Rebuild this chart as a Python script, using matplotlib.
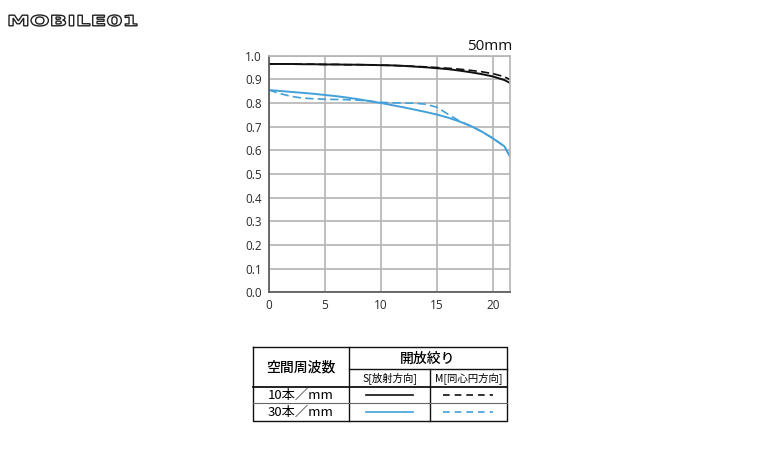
import matplotlib
matplotlib.use("Agg")
import matplotlib.pyplot as plt
from matplotlib.textpath import TextPath
from matplotlib.patches import PathPatch
from matplotlib.font_manager import FontProperties
from matplotlib.transforms import Affine2D

# image height (mm) from the lens centre
x_img = [0, 1, 2, 3, 4, 5, 6, 7, 8, 9, 10, 11, 12, 13, 14, 15, 16, 17, 18, 19, 20, 21, 21.5]

s10 = [0.965, 0.965, 0.965, 0.964, 0.964, 0.963, 0.963, 0.962, 0.962, 0.961, 0.960, 0.959,
       0.957, 0.954, 0.951, 0.947, 0.943, 0.937, 0.930, 0.922, 0.912, 0.897, 0.885]
m10 = [0.965, 0.965, 0.965, 0.964, 0.964, 0.963, 0.963, 0.962, 0.962, 0.961, 0.960, 0.959,
       0.957, 0.955, 0.953, 0.950, 0.947, 0.943, 0.938, 0.932, 0.924, 0.911, 0.899]
s30 = [0.855, 0.851, 0.847, 0.843, 0.839, 0.834, 0.829, 0.823, 0.816, 0.808, 0.800, 0.791,
       0.782, 0.772, 0.762, 0.751, 0.738, 0.722, 0.703, 0.679, 0.650, 0.617, 0.574]
m30 = [0.855, 0.840, 0.828, 0.821, 0.818, 0.816, 0.815, 0.814, 0.812, 0.808, 0.803, 0.801,
       0.800, 0.799, 0.795, 0.782, 0.752, 0.724, 0.703, 0.679, 0.650, 0.617, 0.574]

yticks = [0.0, 0.1, 0.2, 0.3, 0.4, 0.5, 0.6, 0.7, 0.8, 0.9, 1.0]
xticks = [0, 5, 10, 15, 20]

focal = "50mm"
row_head = "空間周波数"
aperture = "開放絞り"
col_s = "S[放射方向]"
col_m = "M[同心円方向]"
rows = ["10本／mm", "30本／mm"]
logo = "MOBILE01"

BLUE = "#43a1d9"
GRID = "#b4b4b4"
JP = ["Noto Sans CJK JP", "DejaVu Sans"]

fig = plt.figure(figsize=(7.8, 4.53), dpi=100)

ax = fig.add_axes([268.7 / 780, 1 - 292.3 / 453, (510 - 268.7) / 780, (292.3 - 55.7) / 453])
ax.plot(x_img, s10, color="#111111", lw=1.4)
ax.plot(x_img, m10, color="#111111", lw=1.2, dashes=(5, 2.5))
ax.plot(x_img, s30, color=BLUE, lw=1.4)
ax.plot(x_img, m30, color=BLUE, lw=1.2, dashes=(5, 2.5))
ax.set_xlim(0, 21.5)
ax.set_ylim(0, 1)
ax.set_xticks(xticks)
ax.set_yticks(yticks)
ax.set_yticklabels([f"{v:.1f}" for v in yticks])
ax.grid(True, color=GRID, lw=1.2)
ax.set_axisbelow(True)
ax.tick_params(length=0, labelsize=8.5, colors="#2a2a2a", pad=5)
for s in ["left", "bottom"]:
    ax.spines[s].set_color("#555555")
    ax.spines[s].set_linewidth(1.2)
for s in ["top", "right"]:
    ax.spines[s].set_color(GRID)
    ax.spines[s].set_linewidth(1.2)
for t in ax.get_xticklabels() + ax.get_yticklabels():
    t.set_family("Open Sans")

# overlay in pixel coords for title, table and logo
ov = fig.add_axes([0, 0, 1, 1])
ov.set_xlim(0, 780)
ov.set_ylim(453, 0)
ov.axis("off")

ov.text(512, 46, focal, ha="right", va="center", fontsize=11, family="Open Sans", color="#111111")

# table frame
L, R, T, B = 252.7, 506.7, 347.3, 420.7
c1, c2 = 349.3, 430
h1, h2, h3 = 369.3, 386.7, 403.3
k = dict(color="#111111", lw=1.0)
ov.plot([L, R, R, L, L], [T, T, B, B, T], **k)
ov.plot([c1, c1], [T, B], **k)
ov.plot([c2, c2], [h1, B], **k)
ov.plot([c1, R], [h1, h1], **k)
ov.plot([L, R], [h2, h2], color="#111111", lw=1.3)
ov.plot([L, R], [h3, h3], color="#666666", lw=0.8)

ov.text((L + c1) / 2, (T + h2) / 2, row_head, ha="center", va="center", fontsize=10, family=JP, weight="medium")
ov.text((c1 + R) / 2, (T + h1) / 2, aperture, ha="center", va="center", fontsize=10, family=JP, weight="medium")
ov.text((c1 + c2) / 2, (h1 + h2) / 2, col_s, ha="center", va="center", fontsize=7.5, family=JP)
ov.text((c2 + R) / 2, (h1 + h2) / 2, col_m, ha="center", va="center", fontsize=7.5, family=JP)
for lab, (ya, yb), col in zip(rows, [(h2, h3), (h3, B)], ["#111111", BLUE]):
    yc = (ya + yb) / 2
    ov.text((L + c1) / 2, yc, lab, ha="center", va="center", fontsize=9.5, family=JP)
    ov.plot([366, 413], [yc, yc], color=col, lw=1.2)
    ov.plot([443, 493], [yc, yc], color=col, lw=1.2, dashes=(4, 3))

# logo: wide outlined lettering, stretched horizontally
tp = TextPath((0, 0), logo, size=12, prop=FontProperties(family="DejaVu Sans", weight="bold"))
ext = tp.get_extents()
tr = Affine2D().translate(-ext.x0, -ext.y0).scale(128 / ext.width, -11 / ext.height).translate(9, 26)
ov.add_patch(PathPatch(tr.transform_path(tp), facecolor="white", edgecolor="#222222", lw=1.0))

fig.savefig("out.png", dpi=100)
